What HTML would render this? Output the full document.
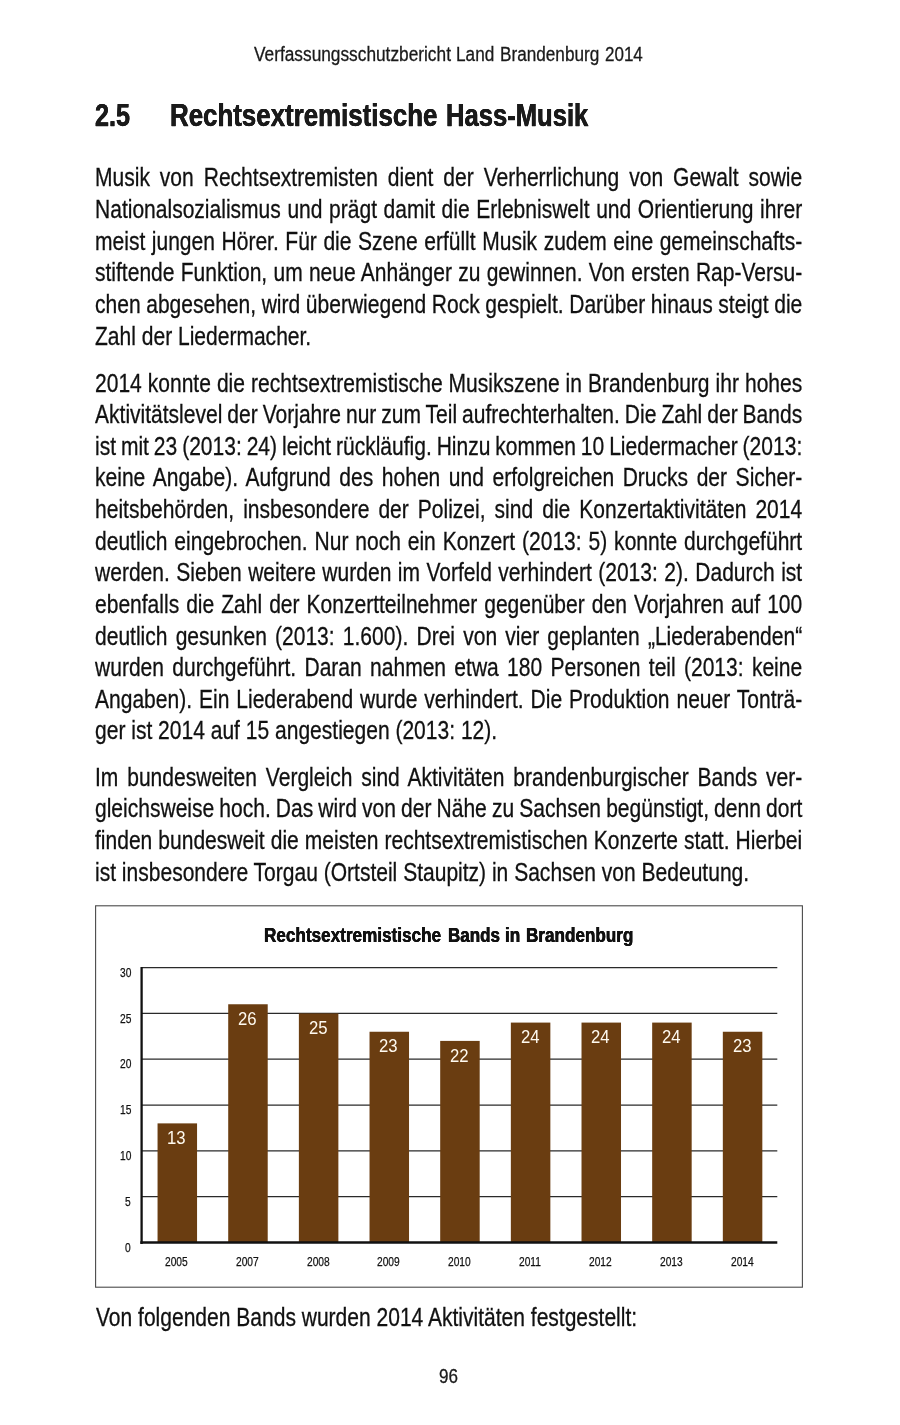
<!DOCTYPE html>
<html lang="de"><head><meta charset="utf-8"><title>Verfassungsschutzbericht Land Brandenburg 2014</title>
<style>
html,body{margin:0;padding:0;background:#fff}
#page{position:relative;width:900px;height:1425px;overflow:hidden;background:#fff;font-family:"Liberation Sans",sans-serif}
header,h1,p,figure,figcaption,footer,div.g{margin:0;padding:0;font-size:inherit;font-weight:inherit}
.t{display:block;position:absolute;white-space:pre;transform-origin:0 0;margin:0}
svg{position:absolute;left:0;top:0}
</style></head><body><div id="page">
<header>
<span class="t" style="left:254.35px;top:43px;font-size:20px;line-height:22px;-webkit-text-stroke:0.3px;color:#1a1a1a;transform:scaleX(0.8641)">Verfassungsschutzbericht</span>
<span class="t" style="left:456.32px;top:43px;font-size:20px;line-height:22px;-webkit-text-stroke:0.3px;color:#1a1a1a;transform:scaleX(0.8598)">Land</span>
<span class="t" style="left:500.02px;top:43px;font-size:20px;line-height:22px;-webkit-text-stroke:0.3px;color:#1a1a1a;transform:scaleX(0.8582)">Brandenburg</span>
<span class="t" style="left:604.57px;top:43px;font-size:20px;line-height:22px;-webkit-text-stroke:0.3px;color:#1a1a1a;transform:scaleX(0.8494)">2014</span>
</header>
<h1>
<span class="t" style="left:95.42px;top:97px;font-size:32px;line-height:36px;font-weight:700;-webkit-text-stroke:0.25px;text-shadow:0.25px 0 0,-0.25px 0 0;color:#1a1a1a;transform:scaleX(0.7864)">2.5</span>
<span class="t" style="left:170.07px;top:97px;font-size:32px;line-height:36px;font-weight:700;-webkit-text-stroke:0.25px;text-shadow:0.25px 0 0,-0.25px 0 0;color:#1a1a1a;transform:scaleX(0.8083)">Rechtsextremistische</span>
<span class="t" style="left:445.59px;top:97px;font-size:32px;line-height:36px;font-weight:700;-webkit-text-stroke:0.25px;text-shadow:0.25px 0 0,-0.25px 0 0;color:#1a1a1a;transform:scaleX(0.8001)">Hass-Musik</span>
</h1>
<p>
<span class="t" style="left:94.80px;top:163px;font-size:25.6px;line-height:28px;word-spacing:5.01px;-webkit-text-stroke:0.3px;color:#111;transform:scaleX(0.8215)">Musik von Rechtsextremisten dient der Verherrlichung von Gewalt sowie</span>
<span class="t" style="left:94.80px;top:195px;font-size:25.6px;line-height:28px;word-spacing:0.91px;-webkit-text-stroke:0.3px;color:#111;transform:scaleX(0.8215)">Nationalsozialismus und prägt damit die Erlebniswelt und Orientierung ihrer</span>
<span class="t" style="left:94.80px;top:227px;font-size:25.6px;line-height:28px;word-spacing:0.88px;-webkit-text-stroke:0.3px;color:#111;transform:scaleX(0.8215)">meist jungen Hörer. Für die Szene erfüllt Musik zudem eine gemeinschafts-</span>
<span class="t" style="left:94.80px;top:258px;font-size:25.6px;line-height:28px;word-spacing:0.49px;-webkit-text-stroke:0.3px;color:#111;transform:scaleX(0.8215)">stiftende Funktion, um neue Anhänger zu gewinnen. Von ersten Rap-Versu-</span>
<span class="t" style="left:94.80px;top:290px;font-size:25.6px;line-height:28px;word-spacing:-0.30px;-webkit-text-stroke:0.3px;color:#111;transform:scaleX(0.8215)">chen abgesehen, wird überwiegend Rock gespielt. Darüber hinaus steigt die</span>
<span class="t" style="left:94.80px;top:322px;font-size:25.6px;line-height:28px;-webkit-text-stroke:0.3px;color:#111;transform:scaleX(0.8215)">Zahl der Liedermacher.</span>
</p>
<p>
<span class="t" style="left:94.80px;top:369px;font-size:25.6px;line-height:28px;word-spacing:0.20px;-webkit-text-stroke:0.3px;color:#111;transform:scaleX(0.8215)">2014 konnte die rechtsextremistische Musikszene in Brandenburg ihr hohes</span>
<span class="t" style="left:94.80px;top:400px;font-size:25.6px;line-height:28px;word-spacing:-1.07px;-webkit-text-stroke:0.3px;color:#111;transform:scaleX(0.8215)">Aktivitätslevel der Vorjahre nur zum Teil aufrechterhalten. Die Zahl der Bands</span>
<span class="t" style="left:94.80px;top:432px;font-size:25.6px;line-height:28px;word-spacing:-1.14px;-webkit-text-stroke:0.3px;color:#111;transform:scaleX(0.8215)">ist mit 23 (2013: 24) leicht rückläufig. Hinzu kommen 10 Liedermacher (2013:</span>
<span class="t" style="left:94.80px;top:463px;font-size:25.6px;line-height:28px;word-spacing:3.33px;-webkit-text-stroke:0.3px;color:#111;transform:scaleX(0.8215)">keine Angabe). Aufgrund des hohen und erfolgreichen Drucks der Sicher-</span>
<span class="t" style="left:94.80px;top:495px;font-size:25.6px;line-height:28px;word-spacing:3.87px;-webkit-text-stroke:0.3px;color:#111;transform:scaleX(0.8215)">heitsbehörden, insbesondere der Polizei, sind die Konzertaktivitäten 2014</span>
<span class="t" style="left:94.80px;top:527px;font-size:25.6px;line-height:28px;word-spacing:1.27px;-webkit-text-stroke:0.3px;color:#111;transform:scaleX(0.8215)">deutlich eingebrochen. Nur noch ein Konzert (2013: 5) konnte durchgeführt</span>
<span class="t" style="left:94.80px;top:558px;font-size:25.6px;line-height:28px;word-spacing:0.73px;-webkit-text-stroke:0.3px;color:#111;transform:scaleX(0.8215)">werden. Sieben weitere wurden im Vorfeld verhindert (2013: 2). Dadurch ist</span>
<span class="t" style="left:94.80px;top:590px;font-size:25.6px;line-height:28px;word-spacing:1.43px;-webkit-text-stroke:0.3px;color:#111;transform:scaleX(0.8215)">ebenfalls die Zahl der Konzertteilnehmer gegenüber den Vorjahren auf 100</span>
<span class="t" style="left:94.80px;top:622px;font-size:25.6px;line-height:28px;word-spacing:2.85px;-webkit-text-stroke:0.3px;color:#111;transform:scaleX(0.8215)">deutlich gesunken (2013: 1.600). Drei von vier geplanten „Liederabenden“</span>
<span class="t" style="left:94.80px;top:653px;font-size:25.6px;line-height:28px;word-spacing:3.01px;-webkit-text-stroke:0.3px;color:#111;transform:scaleX(0.8215)">wurden durchgeführt. Daran nahmen etwa 180 Personen teil (2013: keine</span>
<span class="t" style="left:94.80px;top:685px;font-size:25.6px;line-height:28px;word-spacing:1.32px;-webkit-text-stroke:0.3px;color:#111;transform:scaleX(0.8215)">Angaben). Ein Liederabend wurde verhindert. Die Produktion neuer Tonträ-</span>
<span class="t" style="left:94.80px;top:716px;font-size:25.6px;line-height:28px;-webkit-text-stroke:0.3px;color:#111;transform:scaleX(0.8215)">ger ist 2014 auf 15 angestiegen (2013: 12).</span>
</p>
<p>
<span class="t" style="left:94.80px;top:763px;font-size:25.6px;line-height:28px;word-spacing:3.68px;-webkit-text-stroke:0.3px;color:#111;transform:scaleX(0.8215)">Im bundesweiten Vergleich sind Aktivitäten brandenburgischer Bands ver-</span>
<span class="t" style="left:94.80px;top:794px;font-size:25.6px;line-height:28px;word-spacing:-0.89px;-webkit-text-stroke:0.3px;color:#111;transform:scaleX(0.8215)">gleichsweise hoch. Das wird von der Nähe zu Sachsen begünstigt, denn dort</span>
<span class="t" style="left:94.80px;top:826px;font-size:25.6px;line-height:28px;word-spacing:0.23px;-webkit-text-stroke:0.3px;color:#111;transform:scaleX(0.8215)">finden bundesweit die meisten rechtsextremistischen Konzerte statt. Hierbei</span>
<span class="t" style="left:94.80px;top:858px;font-size:25.6px;line-height:28px;-webkit-text-stroke:0.3px;color:#111;transform:scaleX(0.8215)">ist insbesondere Torgau (Ortsteil Staupitz) in Sachsen von Bedeutung.</span>
</p>
<figure>
<svg width="900" height="1425" viewBox="0 0 900 1425">
<rect x="95.60" y="905.80" width="706.80" height="381.40" fill="none" stroke="#4a4a4a" stroke-width="1.1"/>
<line x1="141.60" y1="1196.68" x2="777.3" y2="1196.68" stroke="#2a2a2a" stroke-width="1.25"/>
<line x1="141.60" y1="1150.87" x2="777.3" y2="1150.87" stroke="#2a2a2a" stroke-width="1.25"/>
<line x1="141.60" y1="1105.06" x2="777.3" y2="1105.06" stroke="#2a2a2a" stroke-width="1.25"/>
<line x1="141.60" y1="1059.24" x2="777.3" y2="1059.24" stroke="#2a2a2a" stroke-width="1.25"/>
<line x1="141.60" y1="1013.42" x2="777.3" y2="1013.42" stroke="#2a2a2a" stroke-width="1.25"/>
<line x1="141.60" y1="967.61" x2="777.3" y2="967.61" stroke="#2a2a2a" stroke-width="1.25"/>
<rect x="157.55" y="1123.38" width="39.50" height="119.12" fill="#6a3d11"/>
<rect x="228.21" y="1004.26" width="39.50" height="238.24" fill="#6a3d11"/>
<rect x="298.87" y="1013.42" width="39.50" height="229.08" fill="#6a3d11"/>
<rect x="369.53" y="1031.75" width="39.50" height="210.75" fill="#6a3d11"/>
<rect x="440.19" y="1040.91" width="39.50" height="201.59" fill="#6a3d11"/>
<rect x="510.85" y="1022.59" width="39.50" height="219.91" fill="#6a3d11"/>
<rect x="581.51" y="1022.59" width="39.50" height="219.91" fill="#6a3d11"/>
<rect x="652.17" y="1022.59" width="39.50" height="219.91" fill="#6a3d11"/>
<rect x="722.83" y="1031.75" width="39.50" height="210.75" fill="#6a3d11"/>
<line x1="141.60" y1="966.9" x2="141.60" y2="1243.90" stroke="#111" stroke-width="2.3"/>
<line x1="140.30" y1="1242.50" x2="777.3" y2="1242.50" stroke="#111" stroke-width="2.5"/>
</svg>
<figcaption>
<span class="t" style="left:264.21px;top:924px;font-size:20px;line-height:22px;font-weight:700;-webkit-text-stroke:0.2px;text-shadow:0.2px 0 0,-0.2px 0 0;color:#111;transform:scaleX(0.8565)">Rechtsextremistische</span>
<span class="t" style="left:447.82px;top:924px;font-size:20px;line-height:22px;font-weight:700;-webkit-text-stroke:0.2px;text-shadow:0.2px 0 0,-0.2px 0 0;color:#111;transform:scaleX(0.8495)">Bands</span>
<span class="t" style="left:505.13px;top:924px;font-size:20px;line-height:22px;font-weight:700;-webkit-text-stroke:0.2px;text-shadow:0.2px 0 0,-0.2px 0 0;color:#111;transform:scaleX(0.8550)">in</span>
<span class="t" style="left:526.41px;top:924px;font-size:20px;line-height:22px;font-weight:700;-webkit-text-stroke:0.2px;text-shadow:0.2px 0 0,-0.2px 0 0;color:#111;transform:scaleX(0.8552)">Brandenburg</span>
</figcaption>
<div class="g">
<span class="t" style="left:125.41px;top:1240px;font-size:13.2px;line-height:15px;-webkit-text-stroke:0.25px;color:#111;transform:scaleX(0.7750)">0</span>
<span class="t" style="left:125.44px;top:1194px;font-size:13.2px;line-height:15px;-webkit-text-stroke:0.25px;color:#111;transform:scaleX(0.7750)">5</span>
<span class="t" style="left:119.73px;top:1148px;font-size:13.2px;line-height:15px;-webkit-text-stroke:0.25px;color:#111;transform:scaleX(0.7750)">10</span>
<span class="t" style="left:119.76px;top:1102px;font-size:13.2px;line-height:15px;-webkit-text-stroke:0.25px;color:#111;transform:scaleX(0.7750)">15</span>
<span class="t" style="left:119.73px;top:1056px;font-size:13.2px;line-height:15px;-webkit-text-stroke:0.25px;color:#111;transform:scaleX(0.7750)">20</span>
<span class="t" style="left:119.76px;top:1011px;font-size:13.2px;line-height:15px;-webkit-text-stroke:0.25px;color:#111;transform:scaleX(0.7750)">25</span>
<span class="t" style="left:119.73px;top:965px;font-size:13.2px;line-height:15px;-webkit-text-stroke:0.25px;color:#111;transform:scaleX(0.7750)">30</span>
</div>
<div class="g">
<span class="t" style="left:165.29px;top:1254px;font-size:13.2px;line-height:15px;-webkit-text-stroke:0.25px;color:#111;transform:scaleX(0.7750)">2005</span>
<span class="t" style="left:235.99px;top:1254px;font-size:13.2px;line-height:15px;-webkit-text-stroke:0.25px;color:#111;transform:scaleX(0.7750)">2007</span>
<span class="t" style="left:306.61px;top:1254px;font-size:13.2px;line-height:15px;-webkit-text-stroke:0.25px;color:#111;transform:scaleX(0.7750)">2008</span>
<span class="t" style="left:377.29px;top:1254px;font-size:13.2px;line-height:15px;-webkit-text-stroke:0.25px;color:#111;transform:scaleX(0.7750)">2009</span>
<span class="t" style="left:447.91px;top:1254px;font-size:13.2px;line-height:15px;-webkit-text-stroke:0.25px;color:#111;transform:scaleX(0.7750)">2010</span>
<span class="t" style="left:519.00px;top:1254px;font-size:13.2px;line-height:15px;-webkit-text-stroke:0.25px;color:#111;transform:scaleX(0.7750)">2011</span>
<span class="t" style="left:589.29px;top:1254px;font-size:13.2px;line-height:15px;-webkit-text-stroke:0.25px;color:#111;transform:scaleX(0.7750)">2012</span>
<span class="t" style="left:659.92px;top:1254px;font-size:13.2px;line-height:15px;-webkit-text-stroke:0.25px;color:#111;transform:scaleX(0.7750)">2013</span>
<span class="t" style="left:730.50px;top:1254px;font-size:13.2px;line-height:15px;-webkit-text-stroke:0.25px;color:#111;transform:scaleX(0.7750)">2014</span>
</div>
<div class="g">
<span class="t" style="left:167.13px;top:1128px;font-size:17.6px;line-height:20px;color:#fffaf0;transform:scaleX(0.9500)">13</span>
<span class="t" style="left:238.01px;top:1009px;font-size:17.6px;line-height:20px;color:#fffaf0;transform:scaleX(0.9500)">26</span>
<span class="t" style="left:308.65px;top:1018px;font-size:17.6px;line-height:20px;color:#fffaf0;transform:scaleX(0.9500)">25</span>
<span class="t" style="left:379.33px;top:1036px;font-size:17.6px;line-height:20px;color:#fffaf0;transform:scaleX(0.9500)">23</span>
<span class="t" style="left:450.04px;top:1046px;font-size:17.6px;line-height:20px;color:#fffaf0;transform:scaleX(0.9500)">22</span>
<span class="t" style="left:520.52px;top:1027px;font-size:17.6px;line-height:20px;color:#fffaf0;transform:scaleX(0.9500)">24</span>
<span class="t" style="left:591.18px;top:1027px;font-size:17.6px;line-height:20px;color:#fffaf0;transform:scaleX(0.9500)">24</span>
<span class="t" style="left:661.84px;top:1027px;font-size:17.6px;line-height:20px;color:#fffaf0;transform:scaleX(0.9500)">24</span>
<span class="t" style="left:732.63px;top:1036px;font-size:17.6px;line-height:20px;color:#fffaf0;transform:scaleX(0.9500)">23</span>
</div>
</figure>
<p>
<span class="t" style="left:96.33px;top:1303px;font-size:25.6px;line-height:28px;-webkit-text-stroke:0.3px;color:#111;transform:scaleX(0.8214)">Von folgenden Bands wurden 2014 Aktivitäten festgestellt:</span>
</p>
<footer>
<span class="t" style="left:439.33px;top:1365px;font-size:19.8px;line-height:22px;-webkit-text-stroke:0.3px;color:#1a1a1a;transform:scaleX(0.8627)">96</span>
</footer>
</div></body></html>
